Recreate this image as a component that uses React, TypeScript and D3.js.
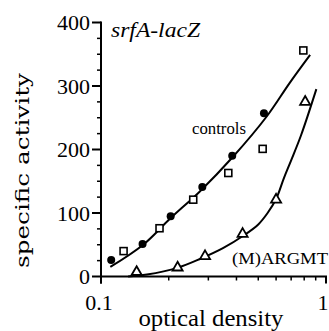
import React from 'react';
import * as d3 from 'd3';

// values: [optical density, specific activity]
const controlsCircles: [number, number][] = [
  [0.111, 26], [0.153, 51], [0.204, 95], [0.282, 141], [0.383, 190], [0.53, 257],
];
const controlsSquares: [number, number][] = [
  [0.126, 40], [0.182, 76], [0.257, 121], [0.368, 163], [0.523, 201], [0.793, 356],
];
const margmtTriangles: [number, number][] = [
  [0.144, 7], [0.219, 14], [0.29, 32], [0.426, 67], [0.6, 121], [0.808, 275],
];
// fitted curves as drawn in the figure
const controlsFit: [number, number][] = [
  [0.11, 15], [0.154, 50], [0.204, 92], [0.275, 134], [0.387, 189],
  [0.545, 252], [0.69, 305], [0.85, 349],
];
const margmtFit: [number, number][] = [
  [0.132, 0], [0.16, 3], [0.22, 14], [0.277, 28], [0.35, 45], [0.432, 65],
  [0.5, 82], [0.55, 100], [0.6, 122], [0.65, 155], [0.7, 183], [0.774, 222], [0.906, 295],
];

const yMajor = [0, 100, 200, 300, 400];
const yMinor = d3.range(0, 401, 25).filter(v => v % 100 !== 0);
const xMajor = [0.1, 1];
const xMinor = [0.2, 0.3, 0.4, 0.5, 0.6, 0.7, 0.8, 0.9];
const xLabels = ['0.1', '1'];

const W = 329, H = 331;
const serif = '"Liberation Serif", "Times New Roman", serif';

const App = () => {
  const x = d3.scaleLog().domain([0.1, 1]).range([101, 326]);
  const y = d3.scaleLinear().domain([0, 400]).range([276.5, 22.5]);

  const line = d3.line<[number, number]>()
    .x(d => x(d[0]))
    .y(d => y(d[1]))
    .curve(d3.curveCatmullRom);

  const tri = d3.symbol(d3.symbolTriangle, 44)();
  const x0 = x(0.1), y0 = y(0);

  return (
    <svg width={W} height={H} viewBox={`0 0 ${W} ${H}`}
      style={{ position: 'absolute', left: 0, top: 0, background: '#fff' }}>
      {/* axes */}
      <g stroke="#000" strokeWidth={2} fill="none">
        <line x1={x0} x2={x0} y1={y(400) - 1} y2={y0 + 7} />
        <line x1={x0 - 1} x2={x(1) + 1} y1={y0} y2={y0} />
        {yMajor.map(v => <line key={'ym' + v} x1={x0 - 9} x2={x0} y1={y(v)} y2={y(v)} />)}
        {yMinor.map(v => <line key={'yn' + v} x1={x0 - 4} x2={x0} y1={y(v)} y2={y(v)} strokeWidth={1.5} />)}
        {xMajor.map(v => <line key={'xm' + v} x1={x(v)} x2={x(v)} y1={y0} y2={y0 + 7} />)}
        {xMinor.map(v => <line key={'xn' + v} x1={x(v)} x2={x(v)} y1={y0} y2={y0 + 4} strokeWidth={1.5} />)}
      </g>
      <g fontFamily={serif} fontSize={22} fill="#000">
        {yMajor.map(v => (
          <text key={'yl' + v} x={x0 - 11} y={y(v)} dy="0.35em" textAnchor="end">{v}</text>
        ))}
        {xMajor.map((v, i) => (
          <text key={'xl' + v} x={i === 0 ? x(v) - 2 : x(v) - 3} y={310} textAnchor="middle">{xLabels[i]}</text>
        ))}
      </g>

      {/* axis titles */}
      <text x={211} y={326} textAnchor="middle" fontFamily={serif} fontSize={24}
        textLength={145} lengthAdjust="spacingAndGlyphs">optical density</text>
      <text transform="translate(29,170.5) rotate(-90)" textAnchor="middle"
        fontFamily='"DejaVu Serif", serif' fontSize={19}
        textLength={195} lengthAdjust="spacingAndGlyphs">specific activity</text>

      {/* annotations */}
      <text x={111} y={37} fontFamily={serif} fontStyle="italic" fontSize={22}
        textLength={89} lengthAdjust="spacingAndGlyphs">srfA-lacZ</text>
      <text x={192} y={134} fontFamily={serif} fontSize={16}
        textLength={54} lengthAdjust="spacingAndGlyphs">controls</text>
      <text x={232} y={264} fontFamily={serif} fontSize={17.5}
        textLength={96} lengthAdjust="spacingAndGlyphs">(M)ARGMT</text>

      {/* fitted curves */}
      <path d={line(controlsFit) ?? ''} fill="none" stroke="#000" strokeWidth={2} />
      <path d={line(margmtFit) ?? ''} fill="none" stroke="#000" strokeWidth={2} />

      {/* points */}
      {controlsCircles.map((d, i) => (
        <circle key={'c' + i} cx={x(d[0])} cy={y(d[1])} r={4} fill="#000" />
      ))}
      {controlsSquares.map((d, i) => (
        <rect key={'s' + i} x={x(d[0]) - 3.5} y={y(d[1]) - 3.5} width={7} height={7}
          fill="#fff" stroke="#000" strokeWidth={1.6} />
      ))}
      {margmtTriangles.map((d, i) => (
        <path key={'t' + i} d={tri ?? ''} transform={`translate(${x(d[0])},${y(d[1])})`}
          fill="#fff" stroke="#000" strokeWidth={1.8} />
      ))}
    </svg>
  );
};

export default App;
